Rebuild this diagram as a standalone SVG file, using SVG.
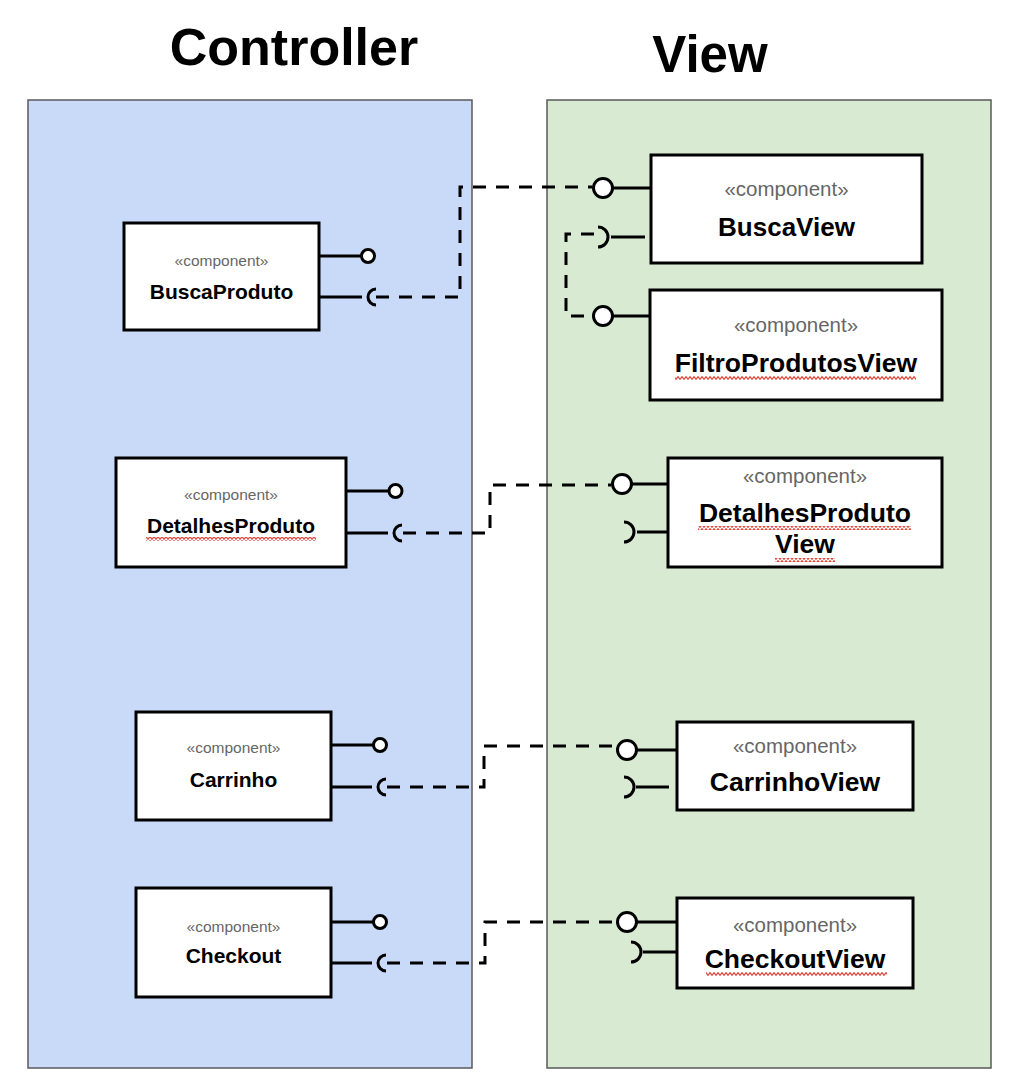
<svg xmlns="http://www.w3.org/2000/svg" width="1024" height="1092" viewBox="0 0 1024 1092">
  <style>
    .title { font-family: "Liberation Sans", Arial, sans-serif; font-weight: bold; fill: #000; text-anchor: middle; }
    .box { fill: #fff; stroke: #000; stroke-width: 3; }
    .stereo { font-family: "Liberation Sans", Arial, sans-serif; fill: #666; text-anchor: middle; }
    .name { font-family: "Liberation Sans", Arial, sans-serif; font-weight: bold; fill: #000; text-anchor: middle; }
    .stub { fill: none; stroke: #000; stroke-width: 3; }
    .ball { fill: #fff; stroke: #000; stroke-width: 3; }
    .dash { fill: none; stroke: #000; stroke-width: 3; stroke-dasharray: 13 10; }
    .spell { fill: url(#squiggle); }
  </style>
  <defs>
    <pattern id="squiggle" x="0" y="0" width="4" height="4" patternUnits="userSpaceOnUse">
      <polyline points="-1,4 0,3.3 2,0.7 4,3.3 5,4" fill="none" stroke="#e04c42" stroke-width="1.3"/>
    </pattern>
  </defs>

  <rect width="1024" height="1092" fill="#fff"/>

  <!-- layer panels -->
  <g id="controller-panel">
    <rect x="28" y="100" width="444" height="968" fill="#c9daf8" stroke="#595959" stroke-width="1.5"/>
    <text class="title" x="294" y="65" font-size="52">Controller</text>
  </g>
  <g id="view-panel">
    <rect x="547" y="100" width="444" height="968" fill="#d9ead3" stroke="#595959" stroke-width="1.5"/>
    <text class="title" x="710" y="72" font-size="51">View</text>
  </g>

  <!-- dependency connectors -->
  <g id="connectors">
    <path class="dash" d="M376 297 H460 V187 H592"/>
    <path class="dash" d="M594 234 H566 V316 H592"/>
    <path class="dash" d="M403 533 H490 V485 H611"/>
    <path class="dash" d="M387 787 H484 V746 H616"/>
    <path class="dash" d="M387 963 H485 V922 H616"/>
  </g>

  <!-- controller components -->
  <g id="BuscaProduto">
    <rect class="box" x="124" y="223" width="195" height="107"/>
    <text class="stereo" x="221.5" y="266" font-size="15.5">«component»</text>
    <text class="name" x="221.5" y="299" font-size="21">BuscaProduto</text>
    <path class="stub" d="M319 256 H361 M319 297 H362"/>
    <circle class="ball" cx="368" cy="256" r="6.5"/>
    <path class="stub" d="M376 289 A8 8 0 0 0 376 305"/>
  </g>

  <g id="DetalhesProduto">
    <rect class="box" x="116" y="458" width="230" height="109"/>
    <text class="stereo" x="231" y="500" font-size="15.5">«component»</text>
    <text class="name" x="231" y="533" font-size="21">DetalhesProduto</text>
    <rect class="spell" x="146" y="537" width="170" height="4"/>
    <path class="stub" d="M346 491 H389 M346 533 H388"/>
    <circle class="ball" cx="395.5" cy="491" r="6.5"/>
    <path class="stub" d="M402 525 A8 8 0 0 0 402 541"/>
  </g>

  <g id="Carrinho">
    <rect class="box" x="136" y="712" width="195" height="108"/>
    <text class="stereo" x="233.5" y="753" font-size="15.5">«component»</text>
    <text class="name" x="233.5" y="787" font-size="21">Carrinho</text>
    <path class="stub" d="M331 745 H373 M331 787 H372"/>
    <circle class="ball" cx="380" cy="745" r="6.5"/>
    <path class="stub" d="M386 779 A8 8 0 0 0 386 795"/>
  </g>

  <g id="Checkout">
    <rect class="box" x="136" y="888" width="195" height="109"/>
    <text class="stereo" x="233.5" y="932" font-size="15.5">«component»</text>
    <text class="name" x="233.5" y="963" font-size="21">Checkout</text>
    <path class="stub" d="M331 922 H373 M331 963 H372"/>
    <circle class="ball" cx="380" cy="922" r="6.5"/>
    <path class="stub" d="M386 955 A8 8 0 0 0 386 971"/>
  </g>

  <!-- view components -->
  <g id="BuscaView">
    <rect class="box" x="651" y="155" width="271" height="108"/>
    <text class="stereo" x="786.5" y="196" font-size="20.5">«component»</text>
    <text class="name" x="786.5" y="236" font-size="26">BuscaView</text>
    <path class="stub" d="M613 188 H651 M611 237 H645"/>
    <circle class="ball" cx="603" cy="188" r="9.5"/>
    <path class="stub" d="M598 227 A10 10 0 0 1 598 247"/>
  </g>

  <g id="FiltroProdutosView">
    <rect class="box" x="650" y="290" width="292" height="110"/>
    <text class="stereo" x="796" y="332" font-size="20.5">«component»</text>
    <text class="name" x="796" y="372" font-size="26.5">FiltroProdutosView</text>
    <rect class="spell" x="675" y="376" width="241" height="4"/>
    <path class="stub" d="M613 316 H650"/>
    <circle class="ball" cx="603" cy="316" r="9.5"/>
  </g>

  <g id="DetalhesProdutoView">
    <rect class="box" x="668" y="458" width="274" height="109"/>
    <text class="stereo" x="805" y="483" font-size="20.5">«component»</text>
    <text class="name" x="805" y="522" font-size="26.5">DetalhesProduto</text>
    <text class="name" x="805" y="553" font-size="26.5">View</text>
    <rect class="spell" x="698" y="526" width="213" height="4"/>
    <rect class="spell" x="775" y="558" width="60" height="4"/>
    <path class="stub" d="M632 484 H668 M637 532 H668"/>
    <circle class="ball" cx="622" cy="484" r="9.5"/>
    <path class="stub" d="M624 522 A10 10 0 0 1 624 542"/>
  </g>

  <g id="CarrinhoView">
    <rect class="box" x="677" y="722" width="236" height="88"/>
    <text class="stereo" x="795" y="753" font-size="20.5">«component»</text>
    <text class="name" x="795" y="791" font-size="26.5">CarrinhoView</text>
    <path class="stub" d="M637 750 H677 M636 787 H669"/>
    <circle class="ball" cx="627" cy="750" r="9.5"/>
    <path class="stub" d="M624 777 A10 10 0 0 1 624 797"/>
  </g>

  <g id="CheckoutView">
    <rect class="box" x="677" y="898" width="236" height="90"/>
    <text class="stereo" x="795" y="932" font-size="20.5">«component»</text>
    <text class="name" x="795" y="968" font-size="26.5">CheckoutView</text>
    <rect class="spell" x="706" y="972" width="181" height="4"/>
    <path class="stub" d="M637 922 H677 M643 952 H677"/>
    <circle class="ball" cx="627" cy="922" r="9.5"/>
    <path class="stub" d="M631 942 A10 10 0 0 1 631 962"/>
  </g>
</svg>
